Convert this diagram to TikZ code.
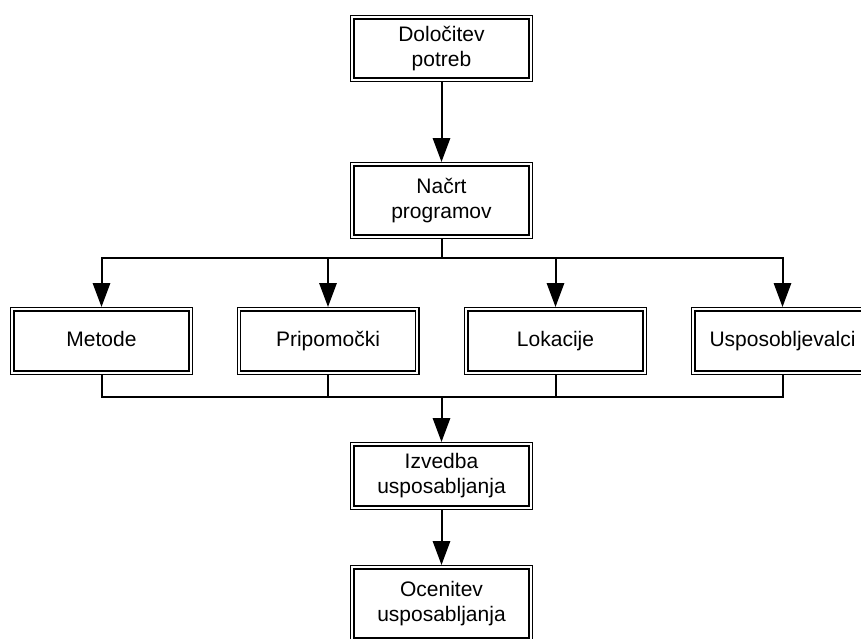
\documentclass[tikz,border=0pt]{standalone}
\usepackage{fontspec}
\setmainfont{Liberation Sans}
\usetikzlibrary{arrows.meta}
\begin{document}
\begin{tikzpicture}[x=0.75pt,y=-0.75pt,
  box/.style={draw=black, line width=1.1pt, double=white, double distance=1.5pt,
    minimum width=133.55pt, minimum height=47.3pt, inner sep=0pt, outer sep=1.85pt,
    align=center, font=\fontsize{15.75}{18.75}\selectfont},
  rowbox/.style={box, text height=11.4pt, text depth=3.2pt},
  tallbox/.style={box, minimum height=54.05pt},
  topbox/.style={box, minimum height=46.55pt},
  conn/.style={draw=black, line width=1.5pt},
  arr/.style={conn, -{Triangle[length=18pt,width=13pt]}}
]
\useasboundingbox (0,0) rectangle (861,639);
\clip (0,0) rectangle (861,639);
\fill[white] (0,0) rectangle (861,639);

\node[topbox]  (A) at (441.5,48.5)  {Določitev\\potreb};
\node[tallbox] (B) at (441.5,200.5) {Načrt\\programov};
\node[rowbox] (M) at (101.5,341) {Metode};
\node[rowbox] (P) at (328,341)   {Pripomočki};
\node[rowbox] (L) at (555.5,341) {Lokacije};
\node[rowbox] (U) at (782.5,341) {Usposobljevalci};
\node[box]     (C) at (441.5,476)   {Izvedba\\usposabljanja};
\node[tallbox] (D) at (441.5,603.5) {Ocenitev\\usposabljanja};

\coordinate (bus1) at (441.5,258);
\coordinate (bus2) at (441.5,397);

\draw[arr] (A) -- (B);
\draw[conn] (B) -- (bus1);
\draw[arr] (bus1) -| (M);
\draw[arr] (bus1) -| (P);
\draw[arr] (bus1) -| (L);
\draw[arr] (bus1) -| (U);
\draw[conn] (M) |- (bus2);
\draw[conn] (P) |- (bus2);
\draw[conn] (L) |- (bus2);
\draw[conn] (U) |- (bus2);
\draw[arr] (bus2) -- (C);
\draw[arr] (C) -- (D);
\end{tikzpicture}
\end{document}
